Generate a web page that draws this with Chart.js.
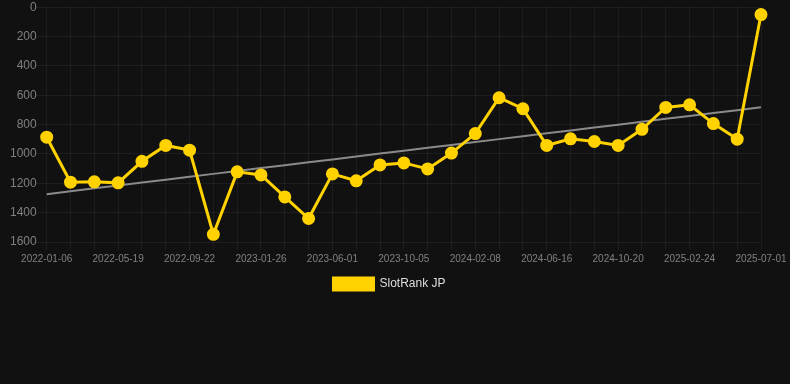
<!DOCTYPE html>
<html>
<head>
<meta charset="utf-8">
<script src="https://cdn.jsdelivr.net/npm/chart.js@4/dist/chart.umd.min.js"></script>
<style>
  html, body { margin: 0; padding: 0; background: #111111; }
  #wrap { position: relative; width: 790px; height: 300px; }
</style>
</head>
<body>
<div id="wrap"><canvas id="c"></canvas></div>
<script>
const dates = [
  "2022-01-06","2022-02-19","2022-04-04","2022-05-19","2022-07-01","2022-08-11",
  "2022-09-22","2022-11-03","2022-12-15","2023-01-26","2023-03-09","2023-04-20",
  "2023-06-01","2023-07-13","2023-08-24","2023-10-05","2023-11-16","2023-12-28",
  "2024-02-08","2024-03-22","2024-05-04","2024-06-16","2024-07-28","2024-09-08",
  "2024-10-20","2024-12-01","2025-01-12","2025-02-24","2025-04-08","2025-05-20",
  "2025-07-01"
];
const rankJP = [
  886,1192,1190,1197,1050,942,
  974,1548,1122,1143,1293,1440,
  1136,1183,1075,1061,1102,994,
  861,617,692,942,897,915,
  942,832,683,665,793,899,
  50
];
const seriesName = "SlotRank JP";
const yTicks = [0,200,400,600,800,1000,1200,1400,1600];

// least-squares trend line from the series
const n = rankJP.length;
let sx=0, sy=0, sxy=0, sxx=0;
rankJP.forEach((v,i)=>{ sx+=i; sy+=v; sxy+=i*v; sxx+=i*i; });
const slope = (n*sxy - sx*sy)/(n*sxx - sx*sx);
const intercept = (sy - slope*sx)/n;
const trend = rankJP.map((_,i)=> intercept + slope*i);

const FONT = 'Arial, "Liberation Sans", sans-serif';
const GRID = 'rgba(255,255,255,0.05)';

new Chart(document.getElementById('c'), {
  type: 'line',
  data: {
    labels: dates,
    datasets: [
      {
        label: seriesName,
        data: rankJP,
        borderColor: '#FFD200',
        backgroundColor: '#FFD200',
        borderWidth: 3,
        pointRadius: 5,
        pointBackgroundColor: '#FFD200',
        pointBorderColor: '#FFD200',
        tension: 0,
        order: 1
      },
      {
        label: 'trend',
        data: trend,
        borderColor: '#8a8a8a',
        borderWidth: 2,
        pointRadius: 0,
        fill: false,
        order: 2
      }
    ]
  },
  options: {
    responsive: true,
    maintainAspectRatio: false,
    animation: false,
    layout: { padding: { top: 0, right: 21, left: 10, bottom: 0 }, autoPadding: false },
    plugins: {
      legend: {
        position: 'bottom',
        labels: {
          color: '#dddddd',
          font: { family: FONT, size: 12 },
          boxWidth: 40,
          boxHeight: 12,
          filter: (item) => item.text !== 'trend'
        }
      },
      tooltip: { enabled: false }
    },
    scales: {
      x: {
        type: 'category',
        offset: false,
        grid: { color: GRID, tickLength: 8 },
        border: { display: false },
        afterFit: (axis) => { axis.paddingRight = Math.max(axis.paddingRight, 29); },
        ticks: {
          color: '#808080',
          font: { family: FONT, size: 10 },
          autoSkip: false,
          maxRotation: 0,
          padding: 3,
          callback: function(v, i) { return i % 3 === 0 ? dates[i] : ''; }
        }
      },
      y: {
        reverse: true,
        min: 0,
        max: 1600,
        afterBuildTicks: (axis) => { axis.ticks = yTicks.map(v => ({ value: v })); },
        grid: { color: GRID, tickLength: 10 },
        border: { display: false },
        ticks: {
          color: '#808080',
          font: { family: FONT, size: 12 },
          padding: 0,
          callback: (v) => String(v)
        }
      }
    }
  }
});
</script>
</body>
</html>
